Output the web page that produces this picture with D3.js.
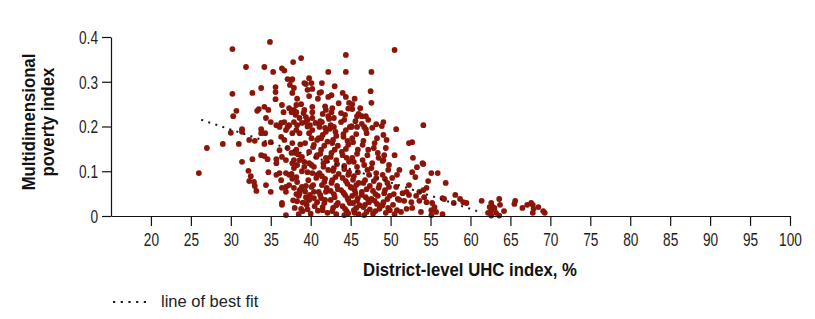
<!DOCTYPE html>
<html>
<head>
<meta charset="utf-8">
<script src="https://cdn.jsdelivr.net/npm/d3@7/dist/d3.min.js"></script>
<style>
  body { margin: 0; background: #fff; }
  svg { display: block; }
  .axis text { font-family: 'Liberation Sans', Arial, sans-serif; font-size: 18px; fill: #222; }
  .axis path, .axis line { stroke: #111; stroke-width: 1.2; }
  .title { font-family: 'Liberation Sans', Arial, sans-serif; font-weight: bold; font-size: 18px; fill: #111; }
  .legend { font-family: 'Liberation Sans', sans-serif; font-size: 16.5px; fill: #222; }
</style>
</head>
<body>
<svg width="815" height="319"></svg>
<script>
// 刻度
var xTicks = [20, 25, 30, 35, 40, 45, 50, 55, 60, 65, 70, 75, 80, 85, 90, 95, 100];
var yTicks = [0, 0.1, 0.2, 0.3, 0.4];
var yTickLabels = ["0", "0.1", "0.2", "0.3", "0.4"];

// 拟合线 [UHC, MPI]
var bestFit = [[26.3, 0.215], [61.5, 0.007]];

// 各区县 [UHC index, MPI] —— 左侧及上方稀疏点
var leftSparse = [
  [30.2,0.373],[34.9,0.389],[31.9,0.333],[34.2,0.333],[35.3,0.322],[36.4,0.330],[36.7,0.325],[37.8,0.344],
  [37.1,0.306],[37.7,0.306],[37.4,0.293],[37.9,0.286],[35.6,0.288],[35.6,0.277],[35.6,0.261],[30.2,0.273],
  [32.7,0.275],[33.8,0.286],[30.7,0.235],[30.3,0.223],[33.3,0.235],[33.5,0.239],[34.2,0.244],[34.7,0.237],
  [36.4,0.248],[36.6,0.232],[37.3,0.241],[37.9,0.237],[38.2,0.248],[34.4,0.219],[35.0,0.210],[35.7,0.203],
  [36.3,0.208],[36.7,0.210],[33.8,0.194],[31.4,0.194],[37.1,0.199],
  [31.4,0.188],[30.0,0.186],[27.0,0.152],[29.0,0.161],[31.0,0.161],[32.3,0.170],[33.0,0.168],[33.8,0.185],
  [34.3,0.185],[34.2,0.161],[35.0,0.165],[33.8,0.136],[34.2,0.134],[34.6,0.127],[32.7,0.127],[31.4,0.121],
  [32.2,0.101],[32.5,0.089],[32.3,0.078],[32.9,0.076],[33.0,0.067],[33.2,0.056],[34.7,0.098],[34.4,0.069],
  [35.0,0.054],[26.0,0.096],[36.4,0.029],[36.4,0.025],[36.9,0.002],[35.7,0.092],[36.1,0.096],[35.7,0.118],
  [35.7,0.127],[36.1,0.147],[36.4,0.132],[36.9,0.125],[36.9,0.096],[37.3,0.092],[37.7,0.118],[37.9,0.107],
  [36.4,0.063],[36.9,0.065],[37.3,0.069],[37.9,0.063],[38.2,0.049],[36.9,0.054],[36.1,0.199],[36.9,0.192],
  [37.7,0.185],[37.7,0.163],[37.1,0.152],[38.1,0.141],[36.3,0.177],[36.7,0.170],[38.2,0.192],
  [37.6,0.094],[36.3,0.080],[37.7,0.083],[37.3,0.203],[37.6,0.141],[37.9,0.125]
];

// 上部 (MPI > 0.19)
var upperBand = [
  [38.8,0.353],[44.4,0.360],[50.5,0.371],[42.2,0.322],[44.4,0.322],[47.6,0.322],[47.5,0.279],[47.6,0.253],
  [39.8,0.308],[39.2,0.297],[39.4,0.295],[40.1,0.297],[40.2,0.284],[39.6,0.282],[41.4,0.297],[41.3,0.277],
  [41.1,0.275],[39.8,0.268],[42.2,0.266],[42.6,0.270],[37.7,0.275],[37.6,0.304],[38.8,0.250],[37.6,0.232],
  [38.2,0.232],[39.2,0.237],[40.2,0.244],[40.2,0.232],[41.9,0.237],[42.7,0.241],[42.6,0.232],[43.8,0.230],
  [44.4,0.266],[44.8,0.253],[45.2,0.250],[45.2,0.239],[45.8,0.223],[46.4,0.223],[46.9,0.223],[49.1,0.210],
  [50.7,0.194],[42.2,0.223],[42.3,0.217],[41.4,0.210],[40.2,0.219],[39.4,0.221],[39.6,0.215],[38.6,0.219],
  [37.9,0.210],[38.9,0.208],[39.9,0.203],[41.1,0.199],[42.9,0.199],[45.1,0.199],[45.8,0.199],[46.7,0.199],
  [44.2,0.215],[43.0,0.290],[44.0,0.275],[45.5,0.262],[46.2,0.241],[43.5,0.252],[44.7,0.240],[40.9,0.262],
  [41.8,0.245],[38.3,0.262],[47.2,0.215],[48.2,0.205],[46.0,0.228]
];

// 密集核心 38–51
var denseCore = [
  [38.3,0.203],[38.6,0.185],[39.4,0.210],[39.8,0.185],[40.1,0.174],[40.4,0.159],[40.8,0.170],[38.2,0.148],
  [38.6,0.125],[38.9,0.132],[38.3,0.114],[39.2,0.110],[39.8,0.118],[40.4,0.110],[40.7,0.132],[39.6,0.098],
  [40.2,0.096],[40.8,0.092],[38.3,0.076],[38.9,0.065],[38.6,0.058],[40.1,0.065],[40.4,0.054],[39.4,0.042],
  [39.8,0.036],[40.4,0.040],[40.8,0.031],[39.4,0.029],
  [38.5,0.045],[39.0,0.030],[38.0,0.018],[39.6,0.015],[40.0,0.005],[38.8,0.060],[39.3,0.055],[37.8,0.035],
  [40.6,0.208],[40.2,0.192],[41.0,0.174],[40.3,0.154],[40.8,0.136],[40.1,0.114],[40.7,0.085],[40.3,0.069],
  [41.0,0.054],[40.5,0.022],[40.9,0.012],
  [41.2,0.212],[41.8,0.197],[41.5,0.181],[42.1,0.166],[41.3,0.148],[41.9,0.130],[41.6,0.118],[42.2,0.103],
  [41.4,0.089],[41.7,0.076],[42.0,0.063],[41.2,0.047],[41.8,0.036],[41.5,0.020],[42.1,0.007],
  [42.5,0.203],[43.1,0.188],[42.8,0.170],[43.4,0.157],[42.6,0.141],[43.2,0.125],[42.9,0.107],[43.5,0.094],
  [42.7,0.080],[43.3,0.067],[42.5,0.056],[43.0,0.042],[43.4,0.029],[42.8,0.018],[43.2,0.004],
  [43.8,0.210],[44.4,0.192],[44.1,0.177],[44.7,0.159],[43.9,0.143],[44.5,0.130],[44.2,0.112],[44.8,0.098],
  [44.0,0.085],[44.6,0.072],[43.8,0.058],[44.3,0.047],[44.7,0.036],[44.0,0.022],[44.5,0.011],[44.2,0.002],
  [45.1,0.201],[45.7,0.183],[45.3,0.165],[45.9,0.148],[45.2,0.130],[45.8,0.110],[45.4,0.089],[46.0,0.074],
  [45.1,0.063],[45.6,0.051],[45.9,0.040],[45.3,0.029],[45.7,0.018],[45.5,0.007],
  [46.4,0.206],[47.0,0.185],[46.6,0.168],[47.2,0.148],[46.5,0.125],[47.1,0.103],[46.8,0.080],[47.4,0.067],
  [46.4,0.054],[46.9,0.042],[47.3,0.031],[46.6,0.020],[47.0,0.009],[46.7,0.002],
  [47.7,0.197],[48.3,0.174],[47.9,0.152],[48.5,0.130],[47.6,0.107],[48.2,0.085],[48.6,0.069],[47.8,0.056],
  [48.4,0.045],[48.0,0.034],[48.7,0.022],[48.1,0.011],
  [48.9,0.201],[49.5,0.170],[49.2,0.136],[49.8,0.114],[49.0,0.092],[49.6,0.074],[49.3,0.058],[49.9,0.045],
  [49.1,0.031],[49.7,0.018],[49.4,0.007],
  [50.2,0.085],[50.7,0.065],[50.4,0.049],[50.9,0.038],[50.3,0.025],[50.8,0.013],[50.5,0.004],
  [49.1,0.181],[50.5,0.136],[49.0,0.123],[51.1,0.103],[50.8,0.092]
];

// 密集核心补点
var coreFill = [
  [38.1,0.226],[38.7,0.160],[38.4,0.138],[38.9,0.100],[38.2,0.087],[38.6,0.050],[38.3,0.033],[38.8,0.016],[38.5,0.004],
  [39.1,0.230],[39.6,0.200],[39.3,0.163],[39.8,0.143],[39.2,0.121],[39.7,0.080],[39.4,0.067],[39.9,0.047],[39.5,0.025],[39.0,0.011],
  [41.5,0.228],[41.1,0.206],[41.9,0.188],[41.3,0.174],[41.7,0.157],[41.2,0.139],[42.0,0.123],[41.6,0.110],
  [41.1,0.096],[41.8,0.083],[41.4,0.069],[41.9,0.054],[41.3,0.040],[41.7,0.029],[41.5,0.013],
  [42.9,0.219],[42.4,0.195],[43.2,0.179],[42.7,0.163],[43.0,0.148],[42.5,0.132],[43.3,0.116],[42.8,0.101],
  [43.1,0.087],[42.6,0.074],[43.4,0.060],[42.9,0.049],[42.5,0.036],[43.2,0.024],[42.7,0.011],
  [44.3,0.226],[44.9,0.199],[44.1,0.183],[44.6,0.168],[44.4,0.150],[44.0,0.136],[44.8,0.121],[44.2,0.105],
  [44.7,0.092],[44.4,0.078],[45.0,0.065],[44.1,0.052],[44.6,0.040],[44.9,0.029],[44.3,0.016],[44.7,0.006],
  [45.6,0.212],[45.2,0.174],[45.8,0.139],[45.4,0.121],[45.9,0.098],[45.3,0.081],[45.7,0.069],[45.5,0.058],
  [45.2,0.045],[45.8,0.034],[46.1,0.024],[45.4,0.013],[46.0,0.004],
  [46.9,0.194],[46.5,0.159],[47.1,0.136],[46.7,0.114],[47.3,0.092],[46.6,0.074],[47.0,0.060],[46.4,0.047],
  [47.2,0.036],[46.8,0.025],[47.4,0.015],
  [48.0,0.163],[48.4,0.141],[47.7,0.118],[48.2,0.096],[47.9,0.078],[48.5,0.063],[48.1,0.049],[47.6,0.038],
  [48.3,0.027],[48.6,0.016],[47.8,0.005],
  [49.4,0.152],[49.1,0.125],[49.7,0.103],[49.3,0.083],[49.8,0.065],[49.2,0.051],[49.6,0.038],[49.0,0.024],[49.9,0.013]
];

// 右侧尾部 51–70
var rightTail = [
  [54.1,0.203],[52.3,0.163],[52.7,0.165],[52.8,0.130],[54.0,0.118],[54.1,0.116],[53.3,0.109],[52.7,0.098],
  [55.1,0.096],[55.9,0.096],[53.1,0.087],[54.7,0.078],[52.3,0.069],[56.9,0.074],[54.5,0.063],[54.1,0.058],
  [53.6,0.054],[52.0,0.054],[51.5,0.051],[52.3,0.047],[53.2,0.045],[54.2,0.042],[51.1,0.036],[51.7,0.034],
  [52.6,0.031],[53.6,0.034],[54.5,0.031],[55.2,0.029],[55.5,0.020],[55.1,0.013],[55.7,0.009],[56.5,0.004],
  [55.1,0.002],[53.8,0.009],[52.7,0.018],[52.0,0.016],[51.3,0.009],[56.5,0.040],[56.7,0.038],[57.9,0.029],
  [58.1,0.047],[58.7,0.038],[59.1,0.031],[59.5,0.029],[61.4,0.034],[62.6,0.029],[62.7,0.022],[62.4,0.020],
  [62.6,0.013],[63.0,0.018],[62.2,0.007],[63.2,0.007],[62.6,0.001],[63.6,0.038],[63.7,0.025],[64.2,0.011],
  [65.6,0.034],[65.5,0.027],[66.5,0.018],[67.1,0.025],[67.6,0.029],[67.8,0.025],[67.9,0.016],[68.5,0.020],
  [69.1,0.011],[69.3,0.007],[67.8,0.007],[63.6,0.001]
];

var districts = leftSparse.concat(upperBand, denseCore, coreFill, rightTail);

var svg = d3.select("svg");
var squeeze = 0.76;      // 模拟窄体字（刻度）
var squeezeTitle = 0.93; // 标题

var x = d3.scaleLinear().domain([15, 100]).range([111, 790]);
var y = d3.scaleLinear().domain([0, 0.4]).range([216, 37]);

// 散点
svg.append("g")
  .selectAll("circle")
  .data(districts)
  .enter()
  .append("circle")
  .attr("cx", d => x(d[0]))
  .attr("cy", d => y(d[1]))
  .attr("r", 2.9)
  .attr("fill", "#8b1508");

// 拟合线
svg.append("path")
  .datum(bestFit)
  .attr("d", d3.line().x(d => x(d[0])).y(d => y(d[1])))
  .attr("fill", "none")
  .attr("stroke", "#1a1a1a")
  .attr("stroke-width", 2)
  .attr("stroke-dasharray", "2,5.4");

// 坐标轴
svg.append("g")
  .attr("class", "axis")
  .attr("transform", "translate(111,0)")
  .call(d3.axisLeft(y).tickValues(yTicks).tickFormat((d, i) => yTickLabels[i]).tickSize(9).tickSizeOuter(0).tickPadding(4))
  .call(g => g.selectAll("text")
    .attr("dy", "0.35em")
    .attr("x", -13 / squeeze)
    .attr("transform", `scale(${squeeze},1)`));

svg.append("g")
  .attr("class", "axis")
  .attr("transform", "translate(0,216)")
  .call(d3.axisBottom(x).tickValues(xTicks).tickSize(10).tickSizeOuter(0).tickPadding(7))
  .call(g => g.selectAll("text").attr("transform", `scale(${squeeze},1)`));

// 标题
svg.append("text")
  .attr("class", "title")
  .attr("text-anchor", "middle")
  .attr("transform", `translate(470,276) scale(${squeezeTitle},1)`)
  .text("District-level UHC index, %");

var yTitle = svg.append("text")
  .attr("class", "title")
  .attr("text-anchor", "middle")
  .attr("transform", `translate(35,122) rotate(-90) scale(${squeezeTitle},1)`);
yTitle.append("tspan").attr("x", 0).attr("y", 0).text("Multidimensional");
yTitle.append("tspan").attr("x", 0).attr("y", 19).text("poverty index");

// 图例
svg.append("line")
  .attr("x1", 113).attr("x2", 147)
  .attr("y1", 302).attr("y2", 302)
  .attr("stroke", "#1a1a1a")
  .attr("stroke-width", 2)
  .attr("stroke-dasharray", "2.2,5.5");

svg.append("text")
  .attr("class", "legend")
  .attr("x", 161)
  .attr("y", 307)
  .text("line of best fit");
</script>
</body>
</html>
